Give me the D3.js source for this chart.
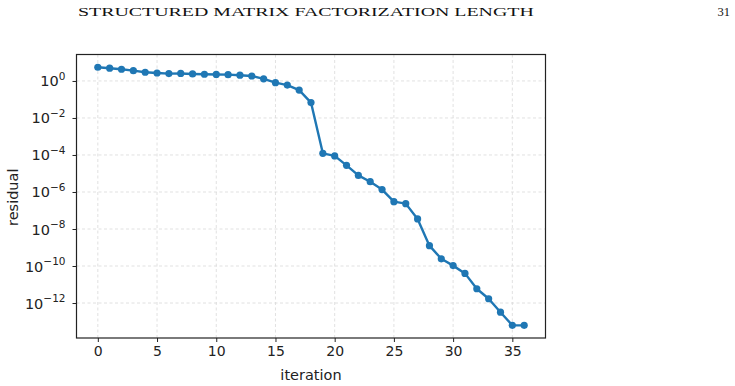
<!DOCTYPE html>
<html>
<head>
<meta charset="utf-8">
<script src="https://cdn.jsdelivr.net/npm/d3@7"></script>
<style>
  body { margin: 0; background: #fff; }
  svg text { font-family: "DejaVu Sans", sans-serif; fill: #222; }
  .header { font-family: "Liberation Serif", "DejaVu Serif", serif; fill: #111; }
  .grid line { stroke: #d9d9d9; stroke-width: 0.8; stroke-dasharray: 3,2.5; }
</style>
</head>
<body>
<div id="chart"></div>
<script>
var width = 735,
    height = 386;

var iterations = d3.range(0, 37);
var residual = [
  5.5, 4.9, 4.3, 3.6, 2.95, 2.7, 2.5, 2.55, 2.4, 2.3,
  2.25, 2.2, 2.05, 1.85, 1.3, 0.81, 0.60, 0.32, 0.068, 1.23e-4,
  8.9e-5, 2.75e-5, 7.9e-6, 3.6e-6, 1.35e-6, 3.0e-7, 2.35e-7, 3.5e-8, 1.26e-9, 2.45e-10,
  1.05e-10, 4.0e-11, 5.9e-12, 1.7e-12, 3.2e-13, 6.2e-14, 6.2e-14
];
var xTicks = [0, 5, 10, 15, 20, 25, 30, 35];
var yTickExps = [0, -2, -4, -6, -8, -10, -12];

var plotLeft = 76.5, plotRight = 545.5, plotTop = 54.5, plotBottom = 338;

var x = d3.scaleLinear()
    .domain([-1.8, 37.8])
    .range([plotLeft, plotRight]);

var y = d3.scaleLog()
    .domain([Math.pow(10, -13.89), Math.pow(10, 1.43)])
    .range([plotBottom, plotTop]);

var svg = d3.select("#chart").append("svg")
    .attr("width", width)
    .attr("height", height);

// running header of the page, stretched wide like small caps
var header = svg.append("text")
    .attr("class", "header")
    .attr("font-size", 11.5)
    .text("STRUCTURED MATRIX FACTORIZATION LENGTH");
var hw = header.node().getComputedTextLength();
header.attr("transform", "translate(78,16) scale(" + (456 / hw) + ",1)");

svg.append("text")
    .attr("class", "header")
    .attr("x", 730)
    .attr("y", 16)
    .attr("font-size", 12.5)
    .attr("text-anchor", "end")
    .text("31");

// grid
var grid = svg.append("g").attr("class", "grid");
grid.selectAll(".gx")
    .data(xTicks)
  .enter().append("line")
    .attr("x1", function(d) { return x(d); })
    .attr("x2", function(d) { return x(d); })
    .attr("y1", plotTop)
    .attr("y2", plotBottom);
grid.selectAll(".gy")
    .data(yTickExps)
  .enter().append("line")
    .attr("x1", plotLeft)
    .attr("x2", plotRight)
    .attr("y1", function(d) { return y(Math.pow(10, d)); })
    .attr("y2", function(d) { return y(Math.pow(10, d)); });

// x axis
var xAxis = svg.append("g")
    .attr("transform", "translate(0," + plotBottom + ")")
    .call(d3.axisBottom(x).tickValues(xTicks).tickSize(4).tickPadding(4));
xAxis.select(".domain").remove();
xAxis.selectAll("line").attr("stroke", "#222").attr("stroke-width", 1);
xAxis.selectAll("text").attr("font-size", 14).attr("font-family", "DejaVu Sans").attr("fill", "#222");

// y axis with 10^n labels
var yAxis = svg.append("g")
    .attr("transform", "translate(" + plotLeft + ",0)")
    .call(d3.axisLeft(y).tickValues(yTickExps.map(function(e) { return Math.pow(10, e); }))
      .tickSize(4).tickFormat(""));
yAxis.select(".domain").remove();
yAxis.selectAll("line").attr("stroke", "#222").attr("stroke-width", 1);

var ylab = svg.append("g").selectAll("text")
    .data(yTickExps)
  .enter().append("text")
    .attr("x", plotLeft - 11)
    .attr("y", function(d) { return y(Math.pow(10, d)) + 5.5; })
    .attr("text-anchor", "end")
    .attr("font-size", 14.5);
ylab.append("tspan").text("10");
ylab.append("tspan")
    .attr("dy", -6.5)
    .attr("font-size", 10.5)
    .text(function(d) { return d === 0 ? "0" : "\u2212" + (-d); });

// frame
svg.append("rect")
    .attr("x", plotLeft)
    .attr("y", plotTop)
    .attr("width", plotRight - plotLeft)
    .attr("height", plotBottom - plotTop)
    .attr("fill", "none")
    .attr("stroke", "#222")
    .attr("stroke-width", 1.2);

// line + markers
var line = d3.line()
    .x(function(d, i) { return x(iterations[i]); })
    .y(function(d) { return y(d); });

svg.append("path")
    .datum(residual)
    .attr("fill", "none")
    .attr("stroke", "#1f77b4")
    .attr("stroke-width", 2.4)
    .attr("stroke-linejoin", "round")
    .attr("d", line);

svg.selectAll(".pt")
    .data(residual)
  .enter().append("circle")
    .attr("cx", function(d, i) { return x(iterations[i]); })
    .attr("cy", function(d) { return y(d); })
    .attr("r", 3.6)
    .attr("fill", "#1f77b4");

// axis labels
svg.append("text")
    .attr("x", (plotLeft + plotRight) / 2)
    .attr("y", 380)
    .attr("text-anchor", "middle")
    .attr("font-size", 14.5)
    .text("iteration");

svg.append("text")
    .attr("transform", "translate(18," + ((plotTop + plotBottom) / 2 + 1) + ") rotate(-90)")
    .attr("text-anchor", "middle")
    .attr("font-size", 14.5)
    .text("residual");
</script>
</body>
</html>
